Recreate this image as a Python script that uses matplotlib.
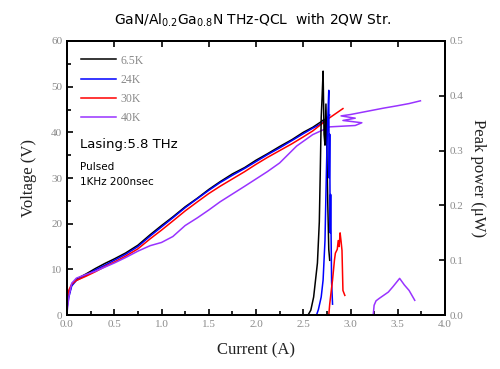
import numpy as np
import matplotlib.pyplot as plt
from matplotlib.ticker import MultipleLocator

# I-V curves (current in A, voltage in V)
i_65k = [0, 0.02, 0.05, 0.1, 0.2, 0.3, 0.4, 0.5, 0.62, 0.75, 0.88, 1.0, 1.12, 1.25, 1.38, 1.5, 1.62, 1.75, 1.88, 2.0, 2.12, 2.25, 2.38, 2.5, 2.6, 2.68, 2.72]
v_65k = [2.5, 4.5, 6.6, 7.9, 9.0, 10.2, 11.3, 12.3, 13.6, 15.3, 17.6, 19.6, 21.5, 23.7, 25.6, 27.5, 29.2, 30.9, 32.3, 33.9, 35.3, 36.9, 38.4, 40.0, 41.1, 42.2, 42.8]

i_24k = [0, 0.02, 0.05, 0.1, 0.2, 0.3, 0.4, 0.5, 0.62, 0.75, 0.88, 1.0, 1.12, 1.25, 1.38, 1.5, 1.62, 1.75, 1.88, 2.0, 2.12, 2.25, 2.38, 2.5, 2.6, 2.7, 2.78]
v_24k = [1.5, 4.0, 6.4, 7.6, 8.7, 9.9, 10.9, 12.0, 13.3, 15.0, 17.3, 19.3, 21.3, 23.5, 25.5, 27.3, 29.0, 30.6, 32.1, 33.6, 35.1, 36.6, 38.2, 39.7, 40.9, 42.0, 43.8]

i_30k = [0, 0.02, 0.05, 0.1, 0.2, 0.3, 0.4, 0.5, 0.62, 0.75, 0.88, 1.0, 1.12, 1.25, 1.38, 1.5, 1.62, 1.75, 1.88, 2.0, 2.12, 2.25, 2.38, 2.5, 2.6, 2.68, 2.78, 2.85, 2.92]
v_30k = [3.5, 5.5, 6.8, 7.6, 8.5, 9.5, 10.6, 11.6, 12.9, 14.5, 16.7, 18.6, 20.6, 22.8, 24.8, 26.6, 28.2, 29.8, 31.4, 33.0, 34.5, 36.0, 37.5, 39.0, 40.3, 41.6, 43.2, 44.2, 45.2]

i_40k = [0, 0.02, 0.05, 0.1, 0.2, 0.3, 0.4, 0.5, 0.62, 0.75, 0.88, 1.0, 1.12, 1.25, 1.38, 1.5, 1.62, 1.75, 1.88, 2.0, 2.12, 2.25, 2.43, 2.6, 2.78, 3.05, 3.12, 2.92, 3.05, 2.9, 3.0, 3.2, 3.35, 3.49, 3.62, 3.74]
v_40k = [0.5, 4.0, 7.0, 8.1, 8.9, 9.6, 10.5, 11.4, 12.6, 14.0, 15.2, 15.9, 17.2, 19.6, 21.3, 23.0, 24.8, 26.5, 28.2, 29.8, 31.4, 33.3, 37.0, 39.5, 41.2, 41.5, 42.1, 42.6, 43.1, 43.6, 43.9, 44.7, 45.3, 45.8, 46.3, 46.9]

# Peak power curves (current in A, power in uW)
pi_65k = [2.55, 2.58, 2.61, 2.63, 2.65, 2.67, 2.68, 2.69, 2.70, 2.71, 2.72, 2.73, 2.74, 2.75, 2.76, 2.77, 2.78]
pp_65k = [0.0, 0.009, 0.033, 0.064, 0.095, 0.17, 0.26, 0.36, 0.40, 0.445, 0.33, 0.31, 0.385, 0.30, 0.20, 0.12, 0.10]

pi_24k = [2.64, 2.66, 2.69, 2.71, 2.73, 2.74, 2.75, 2.76, 2.77, 2.775, 2.78, 2.785, 2.79, 2.80, 2.81]
pp_24k = [0.0, 0.01, 0.033, 0.064, 0.136, 0.22, 0.30, 0.36, 0.41, 0.25, 0.33, 0.15, 0.22, 0.06, 0.02]

pi_30k = [2.77, 2.78, 2.80, 2.81, 2.83, 2.84, 2.86, 2.87, 2.88, 2.89, 2.90, 2.91, 2.92, 2.94]
pp_30k = [0.0, 0.02, 0.05, 0.064, 0.10, 0.113, 0.12, 0.136, 0.125, 0.15, 0.135, 0.118, 0.045, 0.036]

pi_40k = [3.24, 3.25, 3.27, 3.30, 3.35, 3.40, 3.45, 3.52, 3.57, 3.62, 3.68]
pp_40k = [0.0, 0.018, 0.026, 0.030, 0.036, 0.042, 0.052, 0.067, 0.055, 0.045, 0.027]

labels = ['6.5K', '24K', '30K', '40K']
colors = ['black', '#0000ff', '#ff0000', '#9933ff']

fig = plt.figure(figsize=(5, 3.69), dpi=100)
ax = fig.add_axes([0.134, 0.146, 0.756, 0.743])
ax2 = ax.twinx()

for (ii, vv), lab, c in zip([(i_65k, v_65k), (i_24k, v_24k), (i_30k, v_30k), (i_40k, v_40k)], labels, colors):
    ax.plot(ii, vv, color=c, lw=1.1, label=lab)

for (ii, pp), c in zip([(pi_65k, pp_65k), (pi_24k, pp_24k), (pi_30k, pp_30k), (pi_40k, pp_40k)], colors):
    ax2.plot(ii, pp, color=c, lw=1.1)

ax.set_xlim(0, 4)
ax.set_ylim(0, 60)
ax2.set_ylim(0, 0.5)

ax.xaxis.set_major_locator(MultipleLocator(0.5))
ax.xaxis.set_minor_locator(MultipleLocator(0.25))
ax.yaxis.set_major_locator(MultipleLocator(10))
ax.yaxis.set_minor_locator(MultipleLocator(5))
ax2.yaxis.set_major_locator(MultipleLocator(0.1))

tick_font = dict(family='Liberation Serif', size=8)
ax.tick_params(axis='both', which='both', direction='in', colors='black', labelcolor='#8a8a8a', width=1.2)
ax.tick_params(axis='x', which='major', top=True, length=4)
ax.tick_params(axis='x', which='minor', length=3)
ax.tick_params(axis='y', which='major', length=4)
ax.tick_params(axis='y', which='minor', length=3)
ax2.tick_params(axis='y', direction='in', length=4, width=1.2, labelcolor='#8a8a8a')

ax.set_xticks(np.arange(0, 4.01, 0.5))
ax.set_xticklabels(['%.1f' % t for t in np.arange(0, 4.01, 0.5)], fontdict=tick_font)
ax.set_yticks(np.arange(0, 61, 10))
ax.set_yticklabels(['%d' % t for t in np.arange(0, 61, 10)], fontdict=tick_font)
ax2.set_yticks(np.arange(0, 0.51, 0.1))
ax2.set_yticklabels(['%.1f' % t for t in np.arange(0, 0.51, 0.1)], fontdict=tick_font)

for a in (ax, ax2):
    for s in a.spines.values():
        s.set_linewidth(1.4)

label_font = dict(family='Liberation Serif', size=12, color='#222222')
ax.set_xlabel('Current (A)', fontdict=label_font, labelpad=10)
ax.set_ylabel('Voltage (V)', fontdict=label_font, labelpad=10)
ax2.set_ylabel('Peak power (\u03bcW)', fontdict=label_font, rotation=270, labelpad=16)

fig.text(0.506, 0.945, 'GaN/Al$_{0.2}$Ga$_{0.8}$N THz-QCL  with 2QW Str.',
         ha='center', va='center', fontsize=10, family='DejaVu Sans')

leg = ax.legend(loc='upper left', frameon=False, handlelength=3.0, handletextpad=0.4,
                labelspacing=0.62, borderaxespad=0.75, prop={'family': 'Liberation Serif', 'size': 8.5})
for t in leg.get_texts():
    t.set_color('#8a8a8a')

ax.text(0.035, 0.61, 'Lasing:5.8 THz', transform=ax.transAxes, fontsize=9.5, family='DejaVu Sans')
ax.text(0.035, 0.53, 'Pulsed', transform=ax.transAxes, fontsize=7.5, family='DejaVu Sans')
ax.text(0.035, 0.475, '1KHz 200nsec', transform=ax.transAxes, fontsize=7.5, family='DejaVu Sans')

fig.savefig('out.png', dpi=100)
